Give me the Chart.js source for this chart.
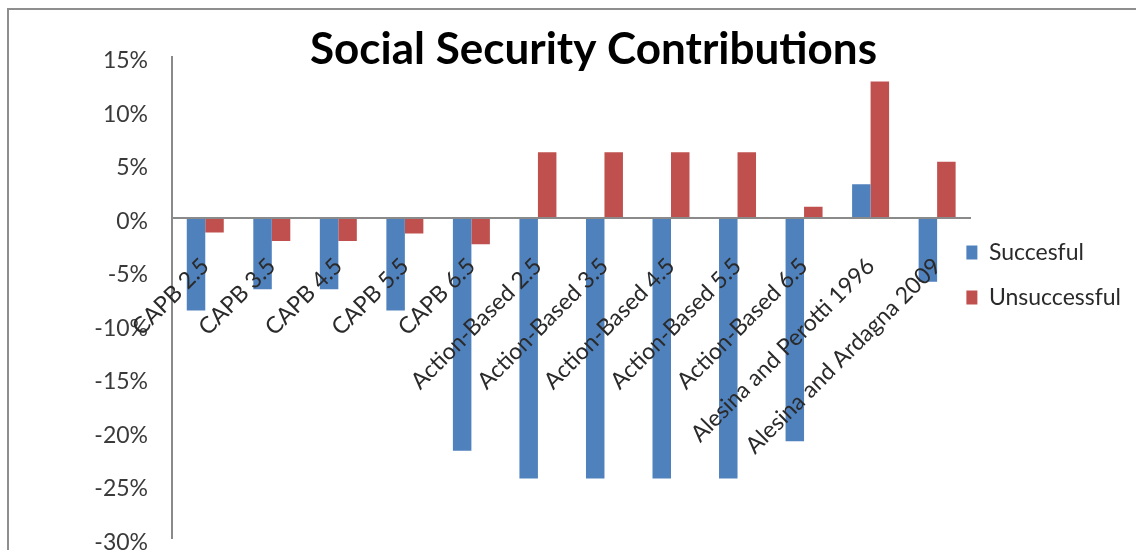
<!DOCTYPE html>
<html>
<head>
<meta charset="utf-8">
<title>Social Security Contributions</title>
<script src="https://cdn.jsdelivr.net/npm/chart.js@4.4.1/dist/chart.umd.min.js"></script>
<style>
  html, body { margin: 0; padding: 0; background: #fff; overflow: hidden; }
  #wrap { position: absolute; left: 0; top: 0; width: 1186px; height: 550px; }
  #frame { position: absolute; left: 7px; top: 8px; width: 1300px; height: 700px;
           border-top: 2px solid #8e8e8e; border-left: 2px solid #8e8e8e; pointer-events: none; }
</style>
</head>
<body>
<div id="wrap">
  <canvas id="ssc-chart" width="1186" height="550"></canvas>
</div>
<div id="frame"></div>
<script>
// values, in percent
const categories = [
  'CAPB 2.5', 'CAPB 3.5', 'CAPB 4.5', 'CAPB 5.5', 'CAPB 6.5',
  'Action-Based 2.5', 'Action-Based 3.5', 'Action-Based 4.5', 'Action-Based 5.5', 'Action-Based 6.5',
  'Alesina and Perotti 1996', 'Alesina and Ardagna 2009'
];
const successful   = [-8.7, -6.7, -6.7, -8.7, -21.8, -24.4, -24.4, -24.4, -24.4, -20.9, 3.1, -6.0];
const unsuccessful = [-1.4, -2.2, -2.2, -1.5, -2.5, 6.1, 6.1, 6.1, 6.1, 1.0, 12.7, 5.2];
const seriesNames = ['Succesful', 'Unsuccessful'];
const yTicks = { min: -30, max: 15, step: 5 };

Chart.defaults.font.family = 'Lato, "Open Sans", sans-serif';

const legendPad = 22;

// the original legend overlaps the end of the axis and the title is off-centre;
// move those two boxes after layout
const nudgeBoxes = {
  id: 'nudgeBoxes',
  afterLayout(chart) {
    const lg = chart.legend;
    if (lg) {
      const dx = (lg.left + legendPad) - (chart.chartArea.right - 4);
      lg.left -= dx; lg.right -= dx;
    }
    const tb = chart.titleBlock;
    if (tb) { tb.left += 15; tb.right += 15; }
  }
};

const ctx = document.getElementById('ssc-chart').getContext('2d');
const chart = new Chart(ctx, {
  type: 'bar',
  data: {
    labels: categories,
    datasets: [
      { label: seriesNames[0], data: successful, backgroundColor: '#4F81BD', borderWidth: 0 },
      { label: seriesNames[1], data: unsuccessful, backgroundColor: '#C0504D', borderWidth: 0 }
    ]
  },
  options: {
    responsive: false,
    animation: false,
    datasets: { bar: { categoryPercentage: 0.556, barPercentage: 1.0 } },
    layout: { padding: { left: 0, right: 29, top: 0, bottom: 0 } },
    scales: {
      x: {
        position: { y: 0 },
        grid: { display: false, drawTicks: true, tickLength: 35 },
        border: { display: true, color: '#8a8a8a', width: 2, z: 1 },
        ticks: {
          z: 1,
          autoSkip: false,
          maxRotation: 45,
          minRotation: 45,
          padding: 0,
          color: '#2a2a2a',
          font: { size: 23 }
        }
      },
      y: {
        min: yTicks.min,
        max: yTicks.max,
        grid: { display: false, drawTicks: true, tickLength: 24 },
        border: { display: true, color: '#8a8a8a', width: 2 },
        afterFit: s => { s.width = 172; },
        ticks: {
          stepSize: yTicks.step,
          padding: 0,
          labelOffset: 4,
          color: '#3a3a3a',
          font: { size: 23, lineHeight: 1 },
          callback: v => `${v}%`
        }
      }
    },
    plugins: {
      title: {
        display: true,
        text: 'Social Security Contributions',
        color: '#000',
        font: { size: 44, weight: 'bold', lineHeight: 1 },
        padding: { top: 28, bottom: -15 }
      },
      legend: {
        position: 'right',
        align: 'center',
        labels: {
          boxWidth: 11,
          boxHeight: 14,
          padding: legendPad,
          color: '#2a2a2a',
          font: { size: 23 }
        }
      },
      tooltip: { enabled: false }
    }
  },
  plugins: [nudgeBoxes]
});
</script>
</body>
</html>
